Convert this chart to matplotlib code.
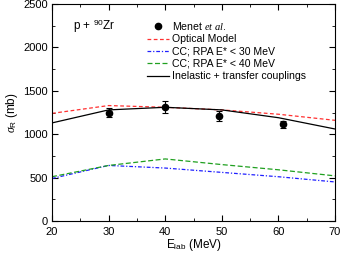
import matplotlib
matplotlib.use("Agg")
import matplotlib.pyplot as plt
import numpy as np
from matplotlib.lines import Line2D

# data
exp_E = [30, 40, 49.5, 60.8]
exp_sig = [1250, 1315, 1210, 1115]
exp_err = [50, 70, 55, 40]

E_grid = [20, 30, 40, 50, 60, 70]
om = [1240, 1330, 1310, 1280, 1230, 1160]
cc30 = [490, 640, 610, 560, 510, 450]
cc40 = [510, 640, 715, 650, 590, 520]
inel = [1130, 1280, 1310, 1280, 1190, 1060]

legend_labels = [r'Menet $\mathit{et\ al.}$', 'Optical Model', 'CC; RPA E* < 30 MeV',
                 'CC; RPA E* < 40 MeV', 'Inelastic + transfer couplings']

plt.rcParams['font.family'] = ['Liberation Sans', 'DejaVu Sans']
plt.rcParams['mathtext.fontset'] = 'custom'
plt.rcParams['mathtext.rm'] = 'Liberation Sans'
plt.rcParams['mathtext.it'] = 'Liberation Serif:italic'
fig = plt.figure(figsize=(3.42, 2.57), dpi=100)
ax = fig.add_axes([52/342, 1-221/257, (335-52)/342, (221-4)/257])

ax.errorbar(exp_E, exp_sig, yerr=exp_err, fmt='o', color='black', ms=4.5,
            capsize=2, elinewidth=0.8, capthick=0.8)
h_om, = ax.plot(E_grid, om, color='#ff3030', ls=(0, (3, 2)), lw=0.9)
h_30, = ax.plot(E_grid, cc30, color='#2020ff', ls=(0, (3, 1.5, 1, 1.5)), lw=0.9)
h_40, = ax.plot(E_grid, cc40, color='#20a020', ls=(0, (4, 2)), lw=0.9)
h_in, = ax.plot(E_grid, inel, color='black', lw=0.9)

ax.set_xlim(20, 70)
ax.set_ylim(0, 2500)
ax.set_xticks([20, 30, 40, 50, 60, 70])
ax.set_xticks(np.arange(25, 70, 10), minor=True)
ax.set_yticks([0, 500, 1000, 1500, 2000, 2500])
ax.set_yticks(np.arange(250, 2500, 500), minor=True)
ax.tick_params(which='both', direction='in', top=True, right=True, labelsize=8)
ax.tick_params(axis='x', pad=4)
ax.tick_params(axis='y', pad=3)
ax.tick_params(which='major', length=4)
ax.tick_params(which='minor', length=2.5)
for s in ax.spines.values():
    s.set_linewidth(0.8)

ax.set_xlabel(r'E$_{\rm lab}$ (MeV)', fontsize=8.5, labelpad=0)
ax.set_ylabel(r'$\sigma_{\rm R}$ (mb)', fontsize=8.5, labelpad=2)
ax.text(0.075, 0.88, r'p + $^{90}$Zr', transform=ax.transAxes, fontsize=8.5)

h_pt = Line2D([], [], marker='o', ls='none', color='black', ms=4.5)
leg = fig.legend([h_pt, h_om, h_30, h_40, h_in], legend_labels,
                 loc='upper left', bbox_to_anchor=(147/342, 1-20/257),
                 fontsize=7.6, frameon=False, handlelength=2.1,
                 handletextpad=0.3, labelspacing=0.22, borderpad=0, borderaxespad=0)

fig.savefig('out.png', dpi=100)
